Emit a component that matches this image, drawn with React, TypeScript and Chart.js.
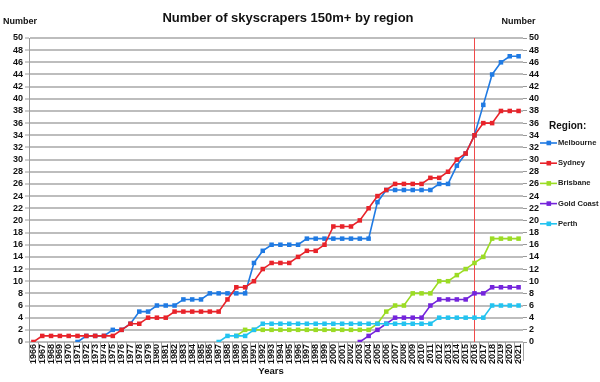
import React, { useEffect, useRef } from "react";
import { Chart, registerables } from "chart.js";

Chart.register(...registerables);

const years = [
  "1966", "1967", "1968", "1969", "1970", "1971", "1972", "1973", "1974", "1975",
  "1976", "1977", "1978", "1979", "1980", "1981", "1982", "1983", "1984", "1985",
  "1986", "1987", "1988", "1989", "1990", "1991", "1992", "1993", "1994", "1995",
  "1996", "1997", "1998", "1999", "2000", "2001", "2002", "2003", "2004", "2005",
  "2006", "2007", "2008", "2009", "2010", "2011", "2012", "2013", "2014", "2015",
  "2016", "2017", "2018", "2019", "2020", "2021",
];

const N = null;
const melbourne = [
  N, N, N, N, N, 0, 1, 1, 1, 2,
  2, 3, 5, 5, 6, 6, 6, 7, 7, 7,
  8, 8, 8, 8, 8, 13, 15, 16, 16, 16,
  16, 17, 17, 17, 17, 17, 17, 17, 17, 23,
  25, 25, 25, 25, 25, 25, 26, 26, 29, 31,
  34, 39, 44, 46, 47, 47,
];
const sydney = [
  0, 1, 1, 1, 1, 1, 1, 1, 1, 1,
  2, 3, 3, 4, 4, 4, 5, 5, 5, 5,
  5, 5, 7, 9, 9, 10, 12, 13, 13, 13,
  14, 15, 15, 16, 19, 19, 19, 20, 22, 24,
  25, 26, 26, 26, 26, 27, 27, 28, 30, 31,
  34, 36, 36, 38, 38, 38,
];
const brisbane = [
  N, N, N, N, N, N, N, N, N, N,
  N, N, N, N, N, N, N, N, N, N,
  N, N, N, 1, 2, 2, 2, 2, 2, 2,
  2, 2, 2, 2, 2, 2, 2, 2, 2, 3,
  5, 6, 6, 8, 8, 8, 10, 10, 11, 12,
  13, 14, 17, 17, 17, 17,
];
const goldCoast = [
  N, N, N, N, N, N, N, N, N, N,
  N, N, N, N, N, N, N, N, N, N,
  N, N, N, N, N, N, N, N, N, N,
  N, N, N, N, N, N, N, 0, 1, 2,
  3, 4, 4, 4, 4, 6, 7, 7, 7, 7,
  8, 8, 9, 9, 9, 9,
];
const perth = [
  N, N, N, N, N, N, N, N, N, N,
  N, N, N, N, N, N, N, N, N, N,
  N, 0, 1, 1, 1, 2, 3, 3, 3, 3,
  3, 3, 3, 3, 3, 3, 3, 3, 3, 3,
  3, 3, 3, 3, 3, 3, 4, 4, 4, 4,
  4, 4, 6, 6, 6, 6,
];

const seriesNames = ["Melbourne", "Sydney", "Brisbane", "Gold Coast", "Perth"];
const seriesData = [melbourne, sydney, brisbane, goldCoast, perth];
const seriesColors = ["#1f7ae3", "#e8232a", "#9bdc24", "#7424dc", "#23c3f0"];
const markerYear = "2016";

const FONT = "'Liberation Sans', Arial, sans-serif";

const overlayPlugin = {
  id: "overlay",
  beforeDatasetsDraw(chart: any) {
    const ctx = chart.ctx;
    const xs = chart.scales.x;
    const area = chart.chartArea;
    const x = xs.getPixelForValue(years.indexOf(markerYear));
    ctx.save();
    ctx.strokeStyle = "#f04a4a";
    ctx.lineWidth = 1;
    ctx.beginPath();
    ctx.moveTo(Math.round(x) + 0.5, area.top);
    ctx.lineTo(Math.round(x) + 0.5, area.bottom);
    ctx.stroke();
    ctx.restore();
  },
  afterDraw(chart: any) {
    const ctx = chart.ctx;
    const area = chart.chartArea;
    ctx.save();
    ctx.strokeStyle = "#a0a0a0";
    ctx.lineWidth = 1;
    const n = years.length;
    const step = (area.right - area.left) / n;
    for (let i = 0; i <= n; i++) {
      const x = Math.round(area.left + i * step) + 0.5;
      ctx.beginPath();
      ctx.moveTo(x, area.bottom);
      ctx.lineTo(x, area.bottom + 19);
      ctx.stroke();
    }
    ctx.fillStyle = "#111";
    ctx.textBaseline = "middle";
    ctx.textAlign = "center";
    ctx.font = `bold 13px ${FONT}`;
    ctx.fillText("Number of skyscrapers 150m+ by region", 288, 18);
    ctx.font = `bold 9px ${FONT}`;
    ctx.textAlign = "left";
    ctx.fillText("Number", 3, 22);
    ctx.textAlign = "center";
    ctx.fillText("Number", 518.5, 22);
    ctx.font = `bold 9.5px ${FONT}`;
    ctx.fillText("Years", 271, 371);
    ctx.textAlign = "left";
    ctx.font = `bold 10px ${FONT}`;
    ctx.fillText("Region:", 549, 126);
    ctx.font = `bold 7.6px ${FONT}`;
    seriesNames.forEach((name, i) => {
      const y = 143 + i * 20.2;
      ctx.strokeStyle = seriesColors[i];
      ctx.fillStyle = seriesColors[i];
      ctx.lineWidth = 1.6;
      ctx.beginPath();
      ctx.moveTo(540, y);
      ctx.lineTo(557, y);
      ctx.stroke();
      ctx.fillRect(546.5, y - 2.3, 4.6, 4.6);
      ctx.fillStyle = "#222";
      ctx.fillText(name, 558, y);
    });
    ctx.restore();
  },
};

export default function App() {
  const ref = useRef<HTMLCanvasElement | null>(null);
  useEffect(() => {
    if (!ref.current) return;
    const datasets = seriesNames.map((name, i) => ({
      label: name,
      data: seriesData[i],
      borderColor: seriesColors[i],
      backgroundColor: seriesColors[i],
      pointBackgroundColor: seriesColors[i],
      pointBorderWidth: 0,
      pointStyle: "rect",
      pointRadius: 3.2,
      borderWidth: 1.6,
      tension: 0,
      spanGaps: false,
      order: seriesNames.length - i,
      yAxisID: "y",
    }));
    const tickFont = { family: FONT, size: 9, weight: "bold" as const };
    const chart = new Chart(ref.current, {
      type: "line",
      data: { labels: years, datasets },
      options: {
        responsive: false,
        animation: false,
        devicePixelRatio: 1,
        layout: { padding: { top: 38, left: 0, right: 0, bottom: 0 } },
        plugins: {
          legend: { display: false },
          title: { display: false },
          tooltip: { enabled: false },
        },
        scales: {
          x: {
            type: "category",
            offset: true,
            grid: { display: false, drawTicks: false },
            border: { display: false },
            ticks: {
              autoSkip: false,
              minRotation: 90,
              maxRotation: 90,
              padding: 2,
              color: "#111",
              font: tickFont,
            },
            afterFit(scale: any) {
              scale.height = 40;
            },
          },
          y: {
            type: "linear",
            position: "left",
            min: 0,
            max: 50,
            ticks: { stepSize: 2, autoSkip: false, padding: 2, color: "#111", font: tickFont },
            grid: {
              display: true,
              drawOnChartArea: true,
              color: "#bdbdbd",
              lineWidth: 2,
              tickLength: 4,
              tickColor: "#9a9a9a",
              tickWidth: 1,
            },
            border: { display: true, color: "#9a9a9a", width: 1 },
            afterFit(scale: any) {
              scale.width = 29;
            },
          },
          y2: {
            type: "linear",
            position: "right",
            min: 0,
            max: 50,
            ticks: { stepSize: 2, autoSkip: false, padding: 2, color: "#111", font: tickFont },
            grid: { display: true, drawOnChartArea: false, tickLength: 4, tickColor: "#9a9a9a", tickWidth: 1 },
            border: { display: false },
            afterFit(scale: any) {
              scale.width = 77;
            },
          },
        },
      } as any,
      plugins: [overlayPlugin],
    });
    return () => chart.destroy();
  }, []);
  return (
    <div style={{ position: "fixed", left: 0, top: 0, width: 600, height: 382, background: "#fff" }}>
      <canvas ref={ref} width={600} height={382} style={{ width: 600, height: 382, display: "block" }} />
    </div>
  );
}
